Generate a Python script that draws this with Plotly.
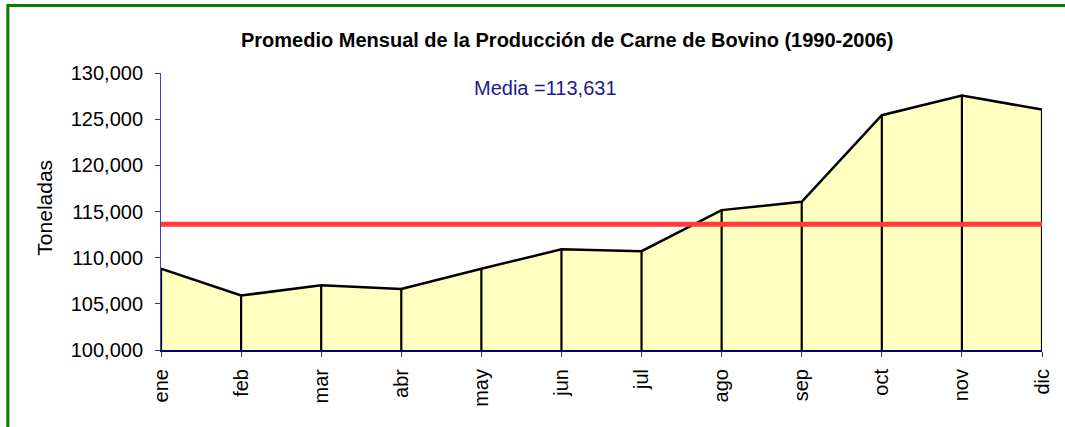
import plotly.graph_objects as go

months = ["ene", "feb", "mar", "abr", "may", "jun", "jul", "ago", "sep", "oct", "nov", "dic"]
production = [108800, 105900, 107000, 106600, 108800, 110900, 110700, 115150, 116050, 125430, 127550, 126040]
mean_value = 113631
title_text = "Promedio Mensual de la Producción de Carne de Bovino (1990-2006)"
y_ticks = [100000, 105000, 110000, 115000, 120000, 125000, 130000]

W, H = 1065, 427
PL, PR, PT, PB = 161, 1048, 73, 350.3  # plot area in page pixels
L, T = PL, PT
R = W - PR
B = H - PB


def px_x(p):
    return (p - PL) / (PR - PL)


def px_y(p):
    return (PB - p) / (PB - PT)


xs = list(range(len(months)))
FONT = "Liberation Sans, Arial, sans-serif"

fig = go.Figure()
fig.add_trace(go.Scatter(
    x=xs, y=production, mode="lines", fill="tozeroy", fillcolor="#FFFFC0",
    line=dict(color="black", width=2.5), hoverinfo="skip", showlegend=False,
))
dx, dy = [], []
for x, v in zip(xs, production):
    dx += [x, x, None]
    dy += [y_ticks[0], v, None]
fig.add_trace(go.Scatter(
    x=dx, y=dy, mode="lines", line=dict(color="black", width=2.2),
    hoverinfo="skip", showlegend=False,
))
fig.add_trace(go.Scatter(
    x=[xs[0], xs[-1]], y=[mean_value, mean_value], mode="lines",
    line=dict(color="#FF3B3B", width=5), hoverinfo="skip", showlegend=False,
))

fig.update_layout(
    width=W, height=H,
    margin=dict(l=L, r=R, t=T, b=B, pad=0),
    paper_bgcolor="white", plot_bgcolor="white",
    font=dict(family=FONT, size=20, color="black"),
    showlegend=False,
    xaxis=dict(
        range=[0, len(months) - 1], tickmode="array", tickvals=xs, ticktext=months,
        tickangle=-90, showgrid=False, zeroline=False,
        showline=True, linecolor="#000070", linewidth=2,
        ticks="outside", ticklen=5, tickcolor="#3030A0", tickwidth=1,
        ticklabelstandoff=4,
        tickfont=dict(family=FONT, size=20, color="black"),
    ),
    yaxis=dict(
        range=[y_ticks[0], y_ticks[-1]], tickmode="array", tickvals=y_ticks,
        tickformat=",d", showgrid=False, zeroline=False,
        showline=True, linecolor="#4040B8", linewidth=1,
        ticks="outside", ticklen=5, tickcolor="#3030A0", tickwidth=1,
        ticklabelstandoff=8,
        tickfont=dict(family=FONT, size=20, color="black"),
    ),
    shapes=[dict(
        type="rect", xref="paper", yref="paper",
        x0=px_x(6.8), x1=px_x(1110), y0=px_y(445), y1=px_y(5.5),
        line=dict(color="#008000", width=3), fillcolor="rgba(0,0,0,0)", layer="below",
    )],
    annotations=[
        dict(text="<b>" + title_text + "</b>", xref="paper", yref="paper",
             x=px_x(570), y=px_y(40), xanchor="center", yanchor="middle",
             showarrow=False, font=dict(family=FONT, size=20, color="black")),
        dict(text="Media =113,631", xref="paper", yref="paper",
             x=px_x(548), y=px_y(88), xanchor="center", yanchor="middle",
             showarrow=False, font=dict(family=FONT, size=20, color="#1A1A8C")),
        dict(text="Toneladas", xref="paper", yref="paper",
             x=px_x(44), y=px_y(208), xanchor="center", yanchor="middle",
             textangle=-90, showarrow=False, font=dict(family=FONT, size=21, color="black")),
    ],
)

fig.write_html(
    "out.html",
    config={"displayModeBar": False},
    post_script="document.body.style.margin='0';document.body.style.overflow='hidden';",
)
